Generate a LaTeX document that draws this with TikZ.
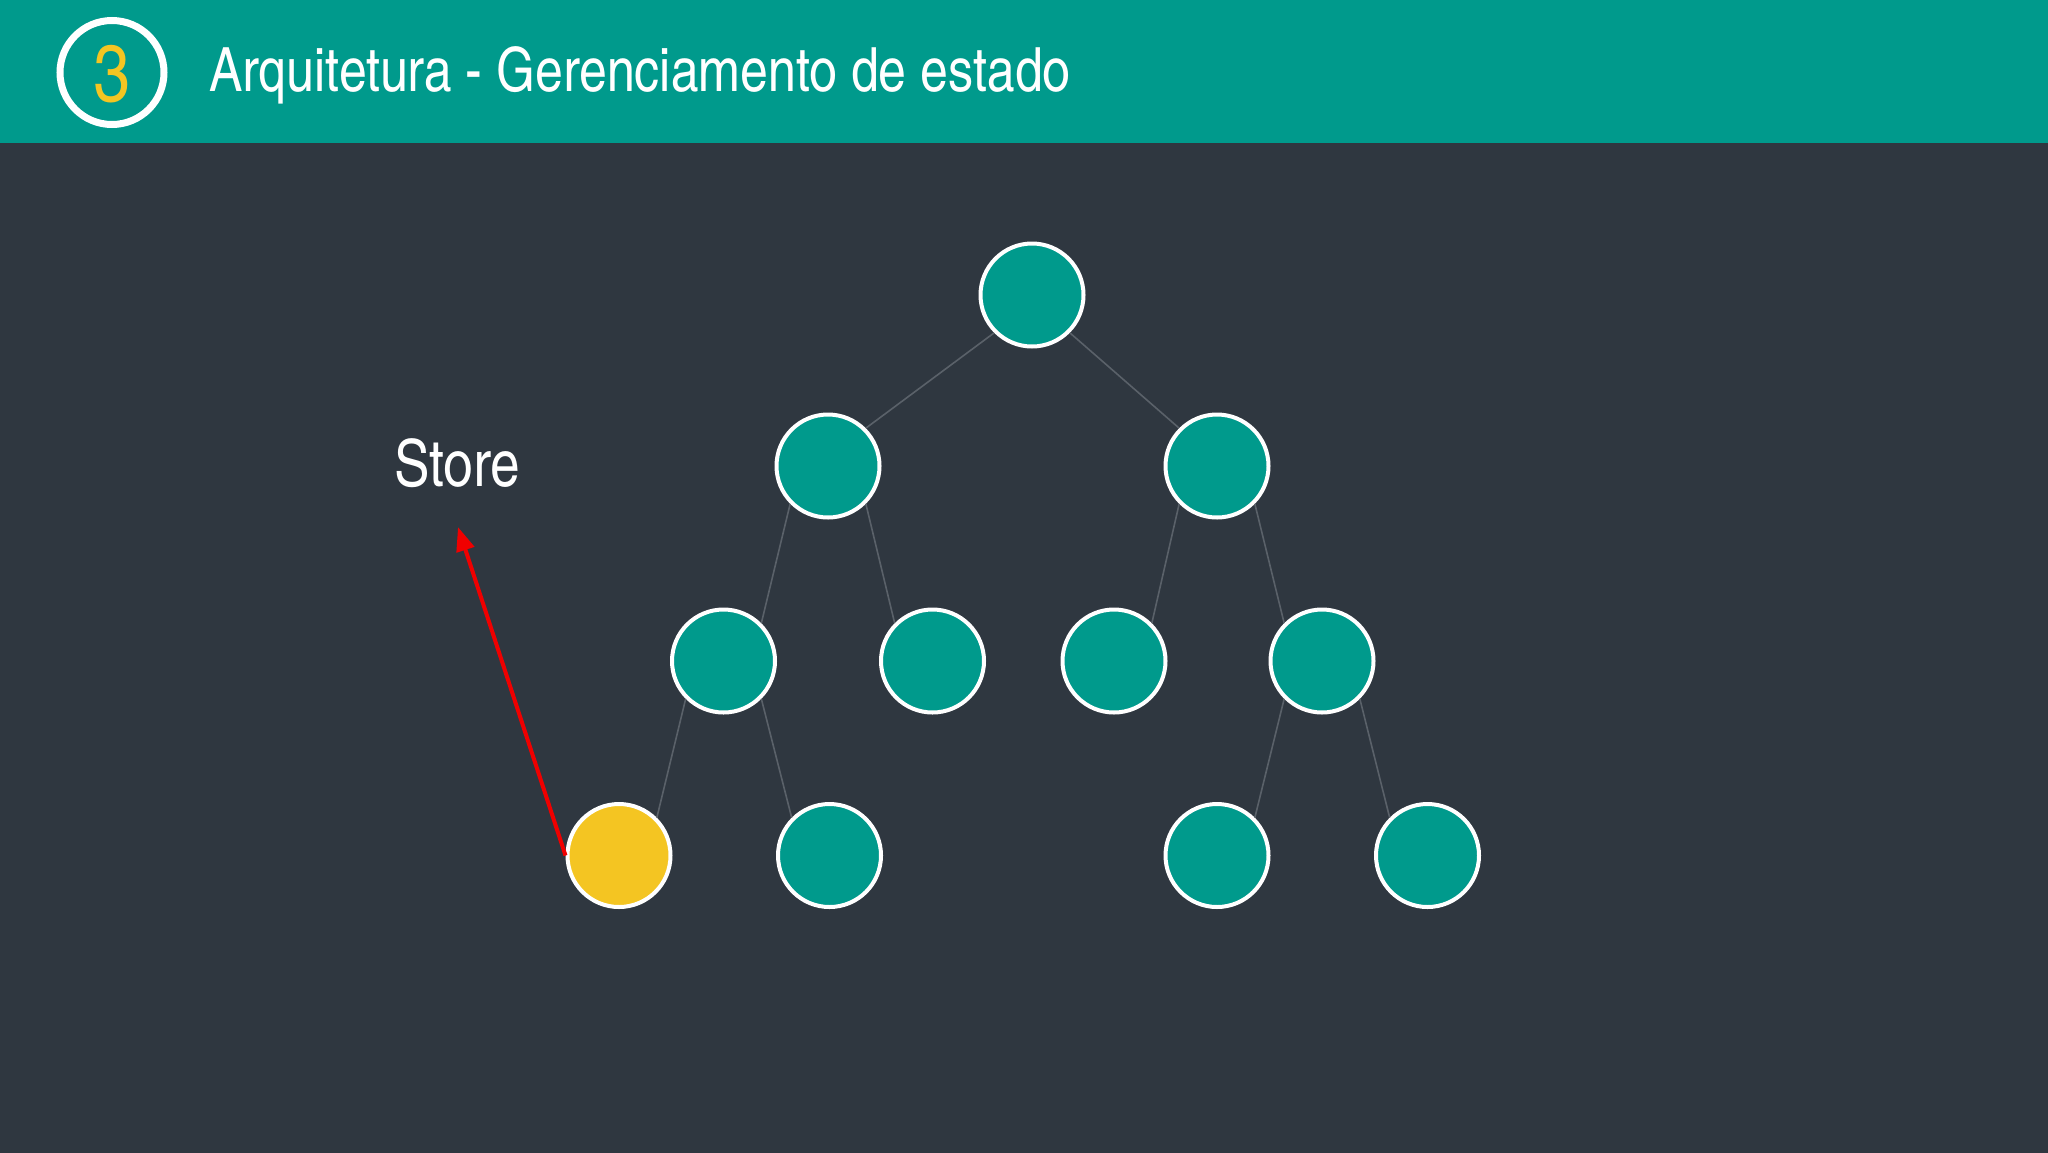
\documentclass[tikz,border=0pt]{standalone}
\usepackage{fontspec}
\setmainfont{texgyreheroscn-regular.otf}
\usetikzlibrary{arrows.meta}
\definecolor{bg}{HTML}{2F3740}
\definecolor{teal}{HTML}{009A8C}
\definecolor{gold}{HTML}{F4C522}
\definecolor{edgegray}{HTML}{5A6169}
\definecolor{arrowred}{HTML}{F00000}
\tikzset{
  treenode/.style={circle, draw=white, line width=4pt, fill=teal, minimum size=103pt, inner sep=0pt},
  storenode/.style={treenode, fill=gold},
  treeedge/.style={draw=edgegray, line width=1.6pt},
  redarrow/.style={draw=arrowred, line width=4pt, -{Triangle[length=24pt,width=18pt]}},
}
\begin{document}
\begin{tikzpicture}[x=1pt,y=-1pt]
\useasboundingbox (0,0) rectangle (2048,1152);
\fill[bg] (-2,-2) rectangle (2050,1154);
\fill[teal] (-2,-2) rectangle (2050,143);
% header
\node[circle, draw=white, line width=7pt, minimum size=104pt, inner sep=0pt] (badge) at (112,72.5) {};
\node[text=gold, font=\fontsize{80}{84}\selectfont, inner sep=0pt] (badgenum) at (112,74) {3};
\node[text=white, font=\fontsize{61}{66}\selectfont, anchor=base west, inner sep=0pt] (title) at (209,91) {Arquitetura - Gerenciamento de estado};
% tree
\node[treenode] (r) at (1032,295) {};
\node[treenode] (a) at (828,466) {};
\node[treenode] (b) at (1217,466) {};
\node[treenode] (aa) at (723.5,661) {};
\node[treenode] (ab) at (932.5,661) {};
\node[treenode] (ba) at (1114,661) {};
\node[treenode] (bb) at (1322,661) {};
\node[storenode] (aaa) at (619,855.5) {};
\node[treenode] (aab) at (829.5,855.5) {};
\node[treenode] (bba) at (1217,855.5) {};
\node[treenode] (bbb) at (1427.5,855.5) {};
\draw[treeedge] (r.south west) -- (a.north east);
\draw[treeedge] (r.south east) -- (b.north west);
\draw[treeedge] (a.south west) -- (aa.north east);
\draw[treeedge] (a.south east) -- (ab.north west);
\draw[treeedge] (b.south west) -- (ba.north east);
\draw[treeedge] (b.south east) -- (bb.north west);
\draw[treeedge] (aa.south west) -- (aaa.north east);
\draw[treeedge] (aa.south east) -- (aab.north west);
\draw[treeedge] (bb.south west) -- (bba.north east);
\draw[treeedge] (bb.south east) -- (bbb.north west);
% store
\node[text=white, font=\fontsize{65}{68}\selectfont, anchor=base west, inner sep=0pt] (store) at (394,486) {Store};
\coordinate (tip) at (458,527);
\draw[redarrow] (aaa.west) -- (tip);
\end{tikzpicture}
\end{document}
